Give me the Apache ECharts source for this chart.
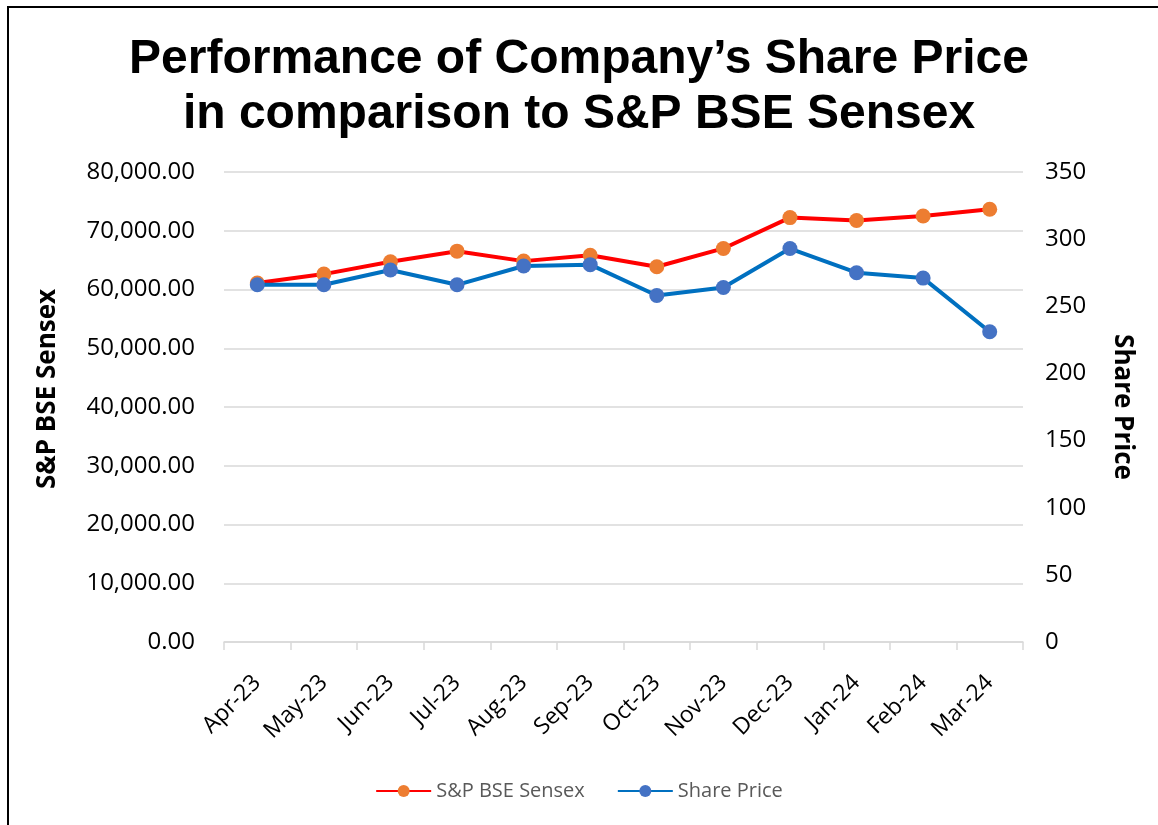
<!DOCTYPE html>
<html>
<head>
<meta charset="utf-8">
<script src="https://cdn.jsdelivr.net/npm/echarts@6/dist/echarts.min.js"></script>
<style>
    html, body { margin: 0; padding: 0; background: #fff; }
    #main { width: 1158px; height: 825px; }
</style>
</head>
<body>
<div id="main"></div>
<script>
// data
var months = ["Apr-23","May-23","Jun-23","Jul-23","Aug-23","Sep-23","Oct-23","Nov-23","Dec-23","Jan-24","Feb-24","Mar-24"];
var sensex = [61112, 62622, 64718, 66527, 64831, 65828, 63874, 66988, 72240, 71752, 72500, 73651];
var sharePrice = [266, 266, 277, 266, 280, 281, 258, 264, 293, 275, 271, 231];

var labelFont = '"Open Sans", "Noto Sans", sans-serif';

var myChart = echarts.init(document.getElementById("main"));
var option = {
    backgroundColor: '#fff',
    animation: false,
    title: {
        text: 'Performance of Company’s Share Price\nin comparison to S&P BSE Sensex',
        left: 'center',
        top: 27,
        textStyle: {
            fontFamily: '"Liberation Sans", Arial, sans-serif',
            fontWeight: 'bold',
            fontSize: 48,
            lineHeight: 55,
            color: '#000'
        }
    },
    // frame line on left and top
    graphic: [{
        type: 'rect',
        shape: { x: 8, y: 7, width: 1300, height: 1000 },
        style: { fill: 'none', stroke: '#000', lineWidth: 2 },
        silent: true
    }],
    legend: {
        data: ['S&P BSE Sensex', 'Share Price'],
        left: 'center',
        top: 776,
        itemWidth: 55,
        itemHeight: 15,
        itemGap: 32,
        textStyle: {
            fontFamily: labelFont,
            fontSize: 20,
            color: '#595959'
        }
    },
    grid: {
        left: 224,
        right: 135,
        top: 172,
        bottom: 183
    },
    xAxis: {
        type: 'category',
        data: months,
        boundaryGap: true,
        axisLine: { lineStyle: { color: '#d9d9d9', width: 1.5 } },
        axisTick: { show: true, length: 8, lineStyle: { color: '#d9d9d9', width: 1.5 } },
        axisLabel: {
            interval: 0,
            rotate: 45,
            margin: 37,
            fontFamily: labelFont,
            fontSize: 23,
            color: '#000'
        }
    },
    yAxis: [{
        type: 'value',
        name: 'S&P BSE Sensex',
        nameLocation: 'middle',
        nameRotate: 90,
        nameGap: 163,
        nameTextStyle: {
            fontFamily: labelFont,
            fontWeight: 'bold',
            fontSize: 26,
            color: '#000',
            padding: [0, 0, 0, 36]
        },
        min: 0,
        max: 80000,
        interval: 10000,
        axisLine: { show: false },
        axisTick: { show: false },
        splitLine: { lineStyle: { color: '#d9d9d9', width: 1.5 } },
        axisLabel: {
            margin: 29,
            fontFamily: labelFont,
            fontSize: 24,
            color: '#000',
            formatter: function (v) {
                return v.toLocaleString('en-US', { minimumFractionDigits: 2, maximumFractionDigits: 2 });
            }
        }
    }, {
        type: 'value',
        name: 'Share Price',
        nameLocation: 'middle',
        nameRotate: -90,
        nameGap: 86,
        nameTextStyle: {
            fontFamily: labelFont,
            fontWeight: 'bold',
            fontSize: 26,
            color: '#000'
        },
        min: 0,
        max: 350,
        interval: 50,
        axisLine: { show: false },
        axisTick: { show: false },
        splitLine: { show: false },
        axisLabel: {
            margin: 22,
            fontFamily: labelFont,
            fontSize: 24,
            color: '#000'
        }
    }],
    series: [{
        name: 'S&P BSE Sensex',
        type: 'line',
        yAxisIndex: 0,
        data: sensex,
        symbol: 'circle',
        symbolSize: 15,
        lineStyle: { color: '#ff0000', width: 4 },
        itemStyle: { color: '#ed7d31' },
        z: 2
    }, {
        name: 'Share Price',
        type: 'line',
        yAxisIndex: 1,
        data: sharePrice,
        symbol: 'circle',
        symbolSize: 15,
        lineStyle: { color: '#0070c0', width: 4 },
        itemStyle: { color: '#4472c4' },
        z: 3
    }]
};
myChart.setOption(option);
</script>
</body>
</html>
